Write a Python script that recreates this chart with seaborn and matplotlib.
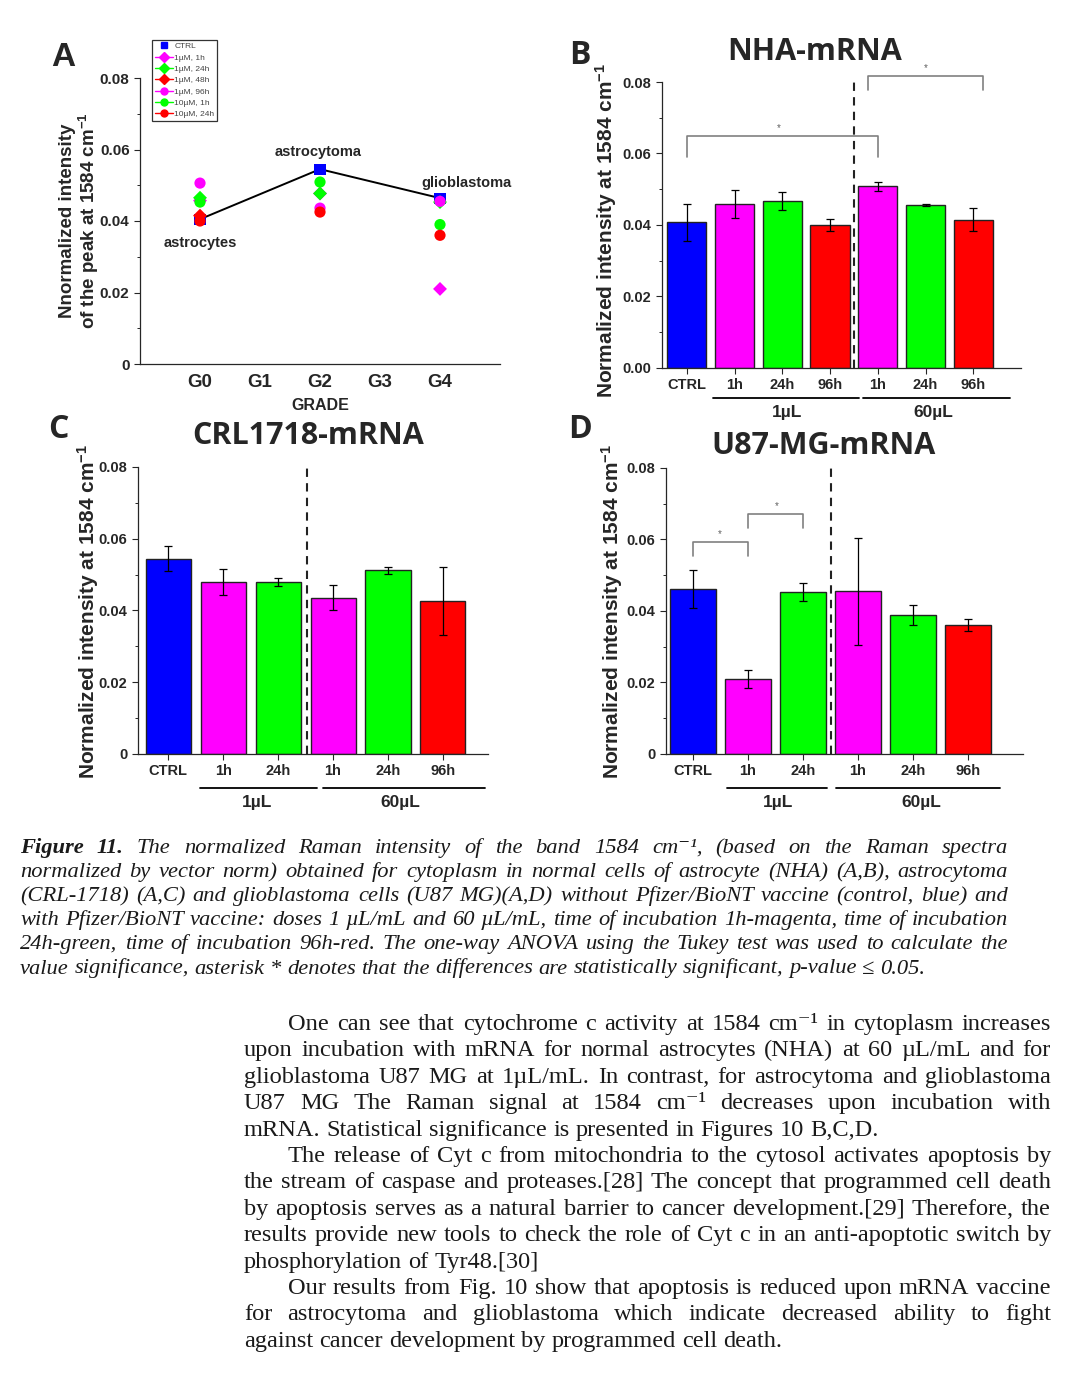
import numpy as np
import pandas as pd
import matplotlib
matplotlib.use("Agg")
import matplotlib.pyplot as plt
from matplotlib.lines import Line2D
from matplotlib.ticker import MultipleLocator, FixedLocator, FixedFormatter
import seaborn as sns

W, H = 1080, 1379

# PANEL A : points par grade
grades = ["G0", "G1", "G2", "G3", "G4"]
grade_pos = [0, 2, 4]
ctrl_A = [0.0405, 0.0545, 0.0464]
series_names = ["1µM, 1h", "1µM, 24h", "1µM, 48h", "1µM, 96h", "10µM, 1h", "10µM, 24h"]
a_1um_1h = [0.0457, 0.0477, 0.0210]
a_1um_24h = [0.0465, 0.0477, 0.0453]
a_1um_48h = [0.0415, np.nan, np.nan]
a_1um_96h = [0.0506, 0.0436, 0.0455]
a_10um_1h = [0.0453, 0.0509, 0.0390]
a_10um_24h = [0.0400, 0.0425, 0.0360]
cell_names = ["astrocytes", "astrocytoma", "glioblastoma"]

# PANEL B : NHA
b_labels = ["CTRL", "1h", "24h", "96h", "1h", "24h", "96h"]
b_vals = [0.0407, 0.0459, 0.0466, 0.0399, 0.0508, 0.0455, 0.0415]
b_err = [0.0052, 0.0039, 0.0025, 0.0017, 0.0013, 0.0003, 0.0033]

# PANEL C : CRL1718
c_labels = ["CTRL", "1h", "24h", "1h", "24h", "96h"]
c_vals = [0.0544, 0.0479, 0.0479, 0.0436, 0.0512, 0.0427]
c_err = [0.0035, 0.0036, 0.0012, 0.0036, 0.0010, 0.0094]

# PANEL D : U87-MG
d_labels = ["CTRL", "1h", "24h", "1h", "24h", "96h"]
d_vals = [0.0462, 0.0210, 0.0453, 0.0455, 0.0390, 0.0360]
d_err = [0.0054, 0.0024, 0.0026, 0.0150, 0.0028, 0.0017]

BLUE, MAG, GRN, RED = "#0000FF", "#FF00FF", "#00FF00", "#FF0000"
b_colors = [BLUE, MAG, GRN, RED, MAG, GRN, RED]
c_colors = [BLUE, MAG, GRN, MAG, GRN, RED]
d_colors = [BLUE, MAG, GRN, MAG, GRN, RED]

# brackets de significativité : (x1, x2, y haut, y bas)
b_brackets = [(0, 4, 0.0648, 0.0590), (3.8, 6.2, 0.0816, 0.0777)]
d_brackets = [(0, 1, 0.0592, 0.0553), (1, 2, 0.0671, 0.0632)]

caption_lines = [
    "Figure 11. The normalized Raman intensity of the band 1584 cm⁻¹, (based on the Raman spectra",
    "normalized by vector norm) obtained for cytoplasm in normal cells of astrocyte (NHA) (A,B), astrocytoma",
    "(CRL-1718) (A,C) and glioblastoma cells (U87 MG)(A,D) without Pfizer/BioNT vaccine (control, blue) and",
    "with Pfizer/BioNT vaccine: doses 1 µL/mL and 60 µL/mL, time of incubation 1h-magenta, time of incubation",
    "24h-green, time of incubation 96h-red. The one-way ANOVA using the Tukey test was used to calculate the",
    "value significance, asterisk * denotes that the differences are statistically significant, p-value ≤ 0.05.",
]
body_lines = [
    "One can see that cytochrome c activity at 1584 cm⁻¹ in cytoplasm  increases",
    "upon incubation with mRNA for normal astrocytes (NHA) at 60 µL/mL and for",
    "glioblastoma U87 MG at 1µL/mL. In contrast, for astrocytoma  and glioblastoma",
    "U87 MG The Raman signal at 1584 cm⁻¹ decreases  upon incubation with",
    "mRNA. Statistical significance is presented in Figures 10 B,C,D.",
    "The release of Cyt c from mitochondria to the cytosol activates apoptosis by",
    "the stream of caspase and proteases.[28] The concept that programmed cell death",
    "by apoptosis serves as a natural barrier to cancer development.[29] Therefore, the",
    "results provide new tools to check the role of Cyt c in an anti-apoptotic switch by",
    "phosphorylation of Tyr48.[30]",
    "Our results from Fig. 10 show that apoptosis is reduced upon mRNA vaccine",
    "for astrocytoma and glioblastoma which indicate decreased ability to fight",
    "against cancer development by programmed cell death.",
]
body_indent = [0, 5, 10]
body_last = [4, 9, 12]

sns.set_style("ticks")
plt.rcParams["font.family"] = ["Liberation Sans", "DejaVu Sans"]
plt.rcParams["mathtext.default"] = "regular"
plt.rcParams["axes.linewidth"] = 0.9

fig = plt.figure(figsize=(W / 100, H / 100), dpi=100)


def px(x, y):
    return x / W, 1 - y / H


def add_axes(x0, y0, x1, y1):
    return fig.add_axes([x0 / W, 1 - y1 / H, (x1 - x0) / W, (y1 - y0) / H])


def style_y(ax, labels, size=10.5):
    ax.set_ylim(0, 0.08)
    ax.yaxis.set_major_locator(FixedLocator([0, 0.02, 0.04, 0.06, 0.08]))
    ax.yaxis.set_major_formatter(FixedFormatter(labels))
    ax.yaxis.set_minor_locator(MultipleLocator(0.01))
    ax.tick_params(axis="y", which="major", direction="out", length=4, width=0.8, labelsize=size)
    ax.tick_params(axis="y", which="minor", direction="out", length=2.5, width=0.7)
    for t in ax.get_yticklabels():
        t.set_fontweight("bold")
    sns.despine(ax=ax)
    ax.set_xlabel("")
    ax.set_ylabel("")


# ---------------- PANEL A ----------------
axA = add_axes(140, 78, 500, 364)
sns.lineplot(x=grade_pos, y=ctrl_A, color="black", lw=1.4, ax=axA, zorder=2)
sns.scatterplot(x=grade_pos, y=ctrl_A, marker="s", color=BLUE, s=65, edgecolor="none", ax=axA, zorder=3)
a_series = [a_1um_1h, a_1um_24h, a_1um_48h, a_1um_96h, a_10um_1h, a_10um_24h]
a_colors = [MAG, GRN, RED, MAG, GRN, RED]
a_markers = ["D", "D", "D", "o", "o", "o"]
for vals, col, mk in zip(a_series, a_colors, a_markers):
    sns.scatterplot(x=grade_pos, y=vals, marker=mk, color=col, s=65 if mk == "o" else 50,
                    edgecolor="none", ax=axA, zorder=4)
axA.set_xlim(-1, 5)
axA.set_xticks(range(len(grades)))
axA.set_xticklabels(grades, fontsize=13.5, fontweight="bold")
axA.tick_params(axis="x", length=0, pad=7)
style_y(axA, ["0", "0.02", "0.04", "0.06", "0.08"], size=11)
axA.set_xlabel("GRADE", fontsize=11.5, fontweight="bold", labelpad=5)

handles = [Line2D([], [], marker="s", color=BLUE, ls="none", ms=4.5)]
for col, mk in zip(a_colors, a_markers):
    handles.append(Line2D([], [], marker=mk, color=col, ls="-", lw=1, ms=5))
leg = fig.legend(handles, ["CTRL"] + series_names, loc="upper left",
                 bbox_to_anchor=px(152, 40), fontsize=6, frameon=True, fancybox=False,
                 edgecolor="black", handlelength=2.2, handletextpad=0.2, labelspacing=0.42,
                 borderpad=0.3, borderaxespad=0)
leg.get_frame().set_linewidth(0.9)
for t in leg.get_texts():
    t.set_color("#444444")

fig.text(*px(200, 243), cell_names[0], ha="center", va="center", fontsize=10.5, fontweight="bold")
fig.text(*px(318, 152), cell_names[1], ha="center", va="center", fontsize=10.5, fontweight="bold")
fig.text(*px(466, 183), cell_names[2], ha="center", va="center", fontsize=10.5, fontweight="bold")
fig.text(*px(68, 221), "Nnormalized intensity", rotation=90, ha="center", va="center",
         fontsize=13.5, fontweight="bold")
fig.text(*px(89, 221), "of the peak at 1584 cm$^{-1}$", rotation=90, ha="center", va="center",
         fontsize=13.5, fontweight="bold")
fig.text(*px(63, 57), "A", ha="center", va="center", fontsize=24, fontweight="bold")


# ---------------- PANNEAUX EN BARRES ----------------
def bar_panel(ax, labels, vals, errs, colors, xlim, dash_x, ylabels):
    keys = [str(i) for i in range(len(vals))]
    df = pd.DataFrame({"key": keys, "val": vals})
    sns.barplot(data=df, x="key", y="val", hue="key", palette=dict(zip(keys, colors)),
                legend=False, width=0.82, saturation=1, edgecolor="#222222", linewidth=1.0,
                errorbar=None, ax=ax, zorder=2)
    ax.errorbar(range(len(vals)), vals, yerr=errs, fmt="none", ecolor="black",
                elinewidth=0.9, capsize=3, capthick=0.9, zorder=3)
    ax.plot([dash_x, dash_x], [0, 0.081], ls=(0, (4, 3)), color="#222222", lw=1.5,
            clip_on=False, zorder=4)
    ax.set_xlim(*xlim)
    ax.set_xticks(range(len(vals)))
    ax.set_xticklabels(labels, fontsize=10.5, fontweight="bold")
    ax.tick_params(axis="x", direction="out", length=4, width=0.8, pad=3)
    style_y(ax, ylabels)


def group_marks(ax, spans, label_x, y_line, y_text):
    tr = ax.get_xaxis_transform()
    for (x1, x2) in spans:
        ax.plot([x1, x2], [y_line, y_line], color="black", lw=1.3, transform=tr, clip_on=False)
    for x, lab in zip(label_x, ["1µL", "60µL"]):
        ax.text(x, y_text, lab, transform=tr, ha="center", va="center", fontsize=12.5,
                fontweight="bold")


def brackets(ax, items, star_x):
    for (x1, x2, ytop, ybot), sx in zip(items, star_x):
        ax.plot([x1, x1, x2, x2], [ybot, ytop, ytop, ybot], color="#808080", lw=1.2,
                clip_on=False, zorder=5)
        ax.text(sx, ytop + 0.0008, "*", ha="center", va="bottom", fontsize=7, color="#606060")


YLAB = "Normalized intensity at 1584 cm$^{-1}$"

# B
axB = add_axes(662, 82, 1021, 368)
bar_panel(axB, b_labels, b_vals, b_err, b_colors, (-0.52, 7.0), 3.5,
          ["0.00", "0.02", "0.04", "0.06", "0.08"])
group_marks(axB, [(0.55, 3.6), (3.69, 6.78)], [2.1, 5.16], -0.105, -0.155)
brackets(axB, b_brackets, [1.93, 5.0])
fig.text(*px(815, 52), "NHA-mRNA", ha="center", va="center", fontsize=22, fontweight="bold",
         family="Open Sans")
fig.text(*px(580, 55), "B", ha="center", va="center", fontsize=23, fontweight="bold",
         family="Open Sans")
fig.text(*px(606, 230), YLAB, rotation=90, ha="center", va="center", fontsize=15,
         fontweight="bold")

# C
axC = add_axes(138, 467, 488, 754)
bar_panel(axC, c_labels, c_vals, c_err, c_colors, (-0.55, 5.82), 2.53,
          ["0", "0.02", "0.04", "0.06", "0.08"])
group_marks(axC, [(0.58, 2.71), (2.82, 5.76)], [1.62, 4.22], -0.118, -0.17)
fig.text(*px(308, 436), "CRL1718-mRNA", ha="center", va="center", fontsize=22, fontweight="bold",
         family="Open Sans")
fig.text(*px(58, 430), "C", ha="center", va="center", fontsize=23, fontweight="bold",
         family="Open Sans")
fig.text(*px(88, 611), YLAB, rotation=90, ha="center", va="center", fontsize=15,
         fontweight="bold")

# D
axD = add_axes(666, 468, 1023, 754)
bar_panel(axD, d_labels, d_vals, d_err, d_colors, (-0.49, 6.0), 2.51,
          ["0", "0.02", "0.04", "0.06", "0.08"])
group_marks(axD, [(0.62, 2.44), (2.6, 5.58)], [1.55, 4.15], -0.118, -0.17)
brackets(axD, d_brackets, [0.49, 1.53])
fig.text(*px(824, 446), "U87-MG-mRNA", ha="center", va="center", fontsize=22, fontweight="bold",
         family="Open Sans")
fig.text(*px(580, 430), "D", ha="center", va="center", fontsize=23, fontweight="bold",
         family="Open Sans")
fig.text(*px(612, 611), YLAB, rotation=90, ha="center", va="center", fontsize=15,
         fontweight="bold")


# ---------------- TEXTE JUSTIFIE ----------------
renderer = fig.canvas.get_renderer()


def place_line(line, x0, x1, y, justify, bold_words=0, **kw):
    words = line.split()
    texts = []
    for i, w in enumerate(words):
        extra = {"fontweight": "bold"} if i < bold_words else {}
        texts.append(fig.text(0, 0, w, va="baseline", ha="left", **kw, **extra))
    widths = [t.get_window_extent(renderer).width for t in texts]
    probe = fig.text(0, 0, "a a", **kw)
    probe2 = fig.text(0, 0, "aa", **kw)
    space = probe.get_window_extent(renderer).width - probe2.get_window_extent(renderer).width
    probe.remove()
    probe2.remove()
    gap = space
    if justify and len(words) > 1:
        gap = max((x1 - x0 - sum(widths)) / (len(words) - 1), 0.6 * space)
    x = x0
    for t, wd in zip(texts, widths):
        t.set_position(px(x, y))
        x += wd + gap


cap_kw = dict(family=["Liberation Serif", "DejaVu Serif"], style="italic", fontsize=16.2,
              color="#1a1a1a")
for i, line in enumerate(caption_lines):
    place_line(line, 20, 1008, 853 + 24.1 * i, justify=(i < len(caption_lines) - 1),
               bold_words=2 if i == 0 else 0, **cap_kw)

body_kw = dict(family=["Liberation Serif", "DejaVu Serif"], fontsize=17.6, color="#1a1a1a")
for i, line in enumerate(body_lines):
    x0 = 288 if i in body_indent else 244
    place_line(line, x0, 1051, 1030 + 26.4 * i, justify=(i not in body_last), **body_kw)

fig.savefig("out.png", dpi=100)
